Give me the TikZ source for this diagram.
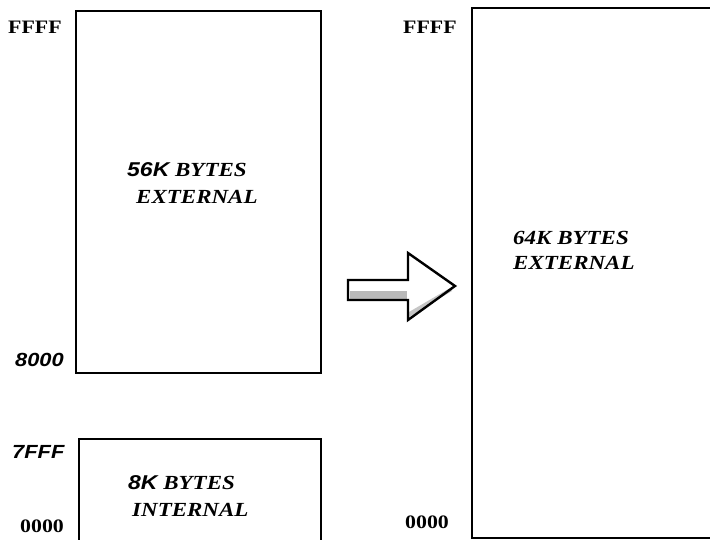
\documentclass[tikz,border=0pt]{standalone}
\usepackage{fontspec}
\setmainfont{Liberation Serif}[FakeStretch=1.15]
\newfontfamily\arialfont{Liberation Sans}[FakeStretch=1.15]
\begin{document}
\begin{tikzpicture}[x=1pt,y=-1pt,
  membox/.style={draw=black,line width=2.6pt},
  addr/.style={inner sep=0pt,anchor=west,font=\fontsize{19}{19}\selectfont\bfseries},
  addrsans/.style={inner sep=0pt,anchor=west,font=\fontsize{19}{19}\selectfont\arialfont\bfseries\itshape},
  lbl/.style={inner sep=0pt,anchor=west,font=\fontsize{20}{20}\selectfont\bfseries\itshape}]
\useasboundingbox (0,0) rectangle (710,540);
% boxes
\draw[membox] (321,373) -- (76,373) -- (76,11) -- (321,11) -- cycle;
\node[inner sep=0pt] (ext56) at (198,192) {};
\draw[membox] (79,545) -- (79,439) -- (321,439) -- (321,545);
\node[inner sep=0pt] (int8) at (200,490) {};
\draw[membox] (720,8) -- (472,8) -- (472,538) -- (720,538);
\node[inner sep=0pt] (ext64) at (590,270) {};
% labels in boxes
\node[lbl] (t56) at (127,170) {{\arialfont 56K} BYTES};
\node[lbl] (t56b) at (136,197) {EXTERNAL};
\node[lbl] (t8) at (128,483) {{\arialfont 8K} BYTES};
\node[lbl] (t8b) at (132,510) {INTERNAL};
\node[lbl] (t64) at (513,238) {64K BYTES};
\node[lbl] (t64b) at (513,263) {EXTERNAL};
% addresses
\node[addr] (aF1) at (8,27) {FFFF};
\node[addrsans] (a8000) at (15,360) {8000};
\node[addrsans] (a7FFF) at (12,452) {7FFF};
\node[addr] (a0000) at (20,526) {0000};
\node[addr] (aF2) at (403,27) {FFFF};
\node[addr] (a0002) at (405,522) {0000};
% block arrow
\coordinate (arrtail) at (348,290);
\coordinate (arrtip) at (455,286);
\fill[gray!55] (350,291) -- (407,291) -- (407,299) -- (350,299) -- cycle;
\fill[gray!45] (409,312) -- (450,288) -- (452,291) -- (409,317) -- cycle;
\draw[line width=2.4pt,line join=miter]
  (348,280) -- (408,280) -- (408,253) -- (arrtip) -- (408,320) -- (408,300) -- (348,300) -- cycle;
\end{tikzpicture}
\end{document}
